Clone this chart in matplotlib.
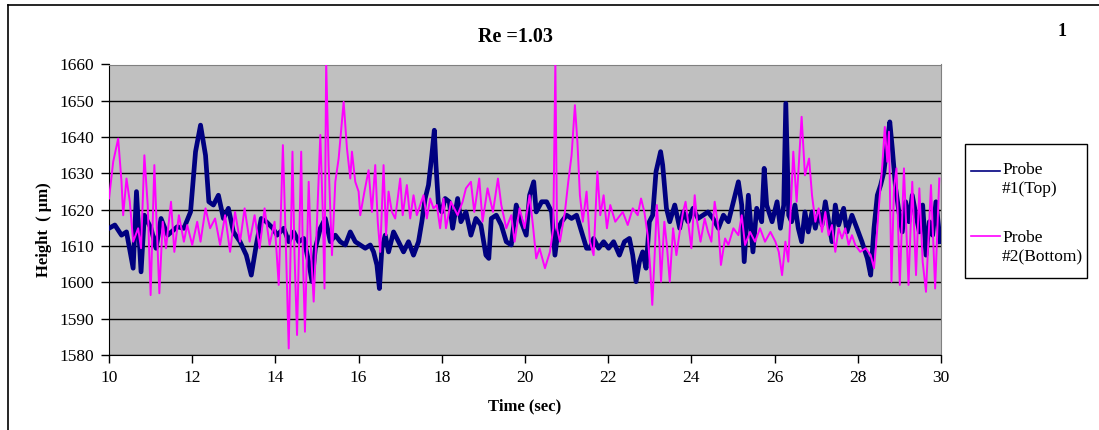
import matplotlib
matplotlib.use("Agg")
import matplotlib.pyplot as plt
from matplotlib.lines import Line2D
from matplotlib.patches import Rectangle

plt.rcParams['font.family'] = ['Liberation Serif', 'DejaVu Serif']

# Probe #1 (top) film height, time in sec, height in micrometres
t_top = [10.00, 10.14, 10.30, 10.42, 10.58, 10.66, 10.77, 10.85, 11.01, 11.13,
         11.25, 11.41, 11.64, 11.80, 11.96, 12.08, 12.20, 12.32, 12.40, 12.51,
         12.63, 12.75, 12.87, 12.99, 13.15, 13.30, 13.42, 13.54, 13.66, 13.78,
         13.94, 14.04, 14.20, 14.32, 14.44, 14.56, 14.68, 14.80, 14.88, 14.96,
         15.08, 15.20, 15.32, 15.44, 15.56, 15.68, 15.80, 15.92, 16.04, 16.16,
         16.28, 16.36, 16.44, 16.50, 16.56, 16.64, 16.72, 16.84, 16.96, 17.08,
         17.20, 17.32, 17.44, 17.52, 17.60, 17.68, 17.76, 17.82, 17.86, 17.92,
         18.00, 18.08, 18.18, 18.26, 18.38, 18.46, 18.58, 18.70, 18.82, 18.94,
         19.06, 19.13, 19.19, 19.31, 19.43, 19.55, 19.67, 19.79, 19.91, 20.03,
         20.11, 20.21, 20.27, 20.40, 20.52, 20.64, 20.72, 20.80, 20.88, 21.00,
         21.12, 21.24, 21.36, 21.48, 21.56, 21.65, 21.77, 21.89, 22.01, 22.13,
         22.27, 22.39, 22.51, 22.59, 22.67, 22.75, 22.83, 22.91, 22.99, 23.07,
         23.15, 23.26, 23.31, 23.40, 23.48, 23.60, 23.72, 23.80, 23.92, 24.04,
         24.16, 24.28, 24.40, 24.52, 24.65, 24.77, 24.89, 25.01, 25.13, 25.21,
         25.27, 25.37, 25.48, 25.57, 25.69, 25.75, 25.81, 25.94, 26.06, 26.14,
         26.22, 26.27, 26.34, 26.41, 26.49, 26.57, 26.65, 26.73, 26.81, 26.90,
         26.98, 27.06, 27.14, 27.22, 27.30, 27.38, 27.46, 27.54, 27.66, 27.74,
         27.86, 27.98, 28.10, 28.23, 28.31, 28.39, 28.47, 28.55, 28.63, 28.71,
         28.77, 28.83, 28.91, 28.99, 29.07, 29.15, 29.23, 29.31, 29.40, 29.48,
         29.56, 29.64, 29.72, 29.80, 29.88, 29.98]
h_top = [1614.9, 1615.8, 1613.0, 1613.9, 1603.9, 1625.0, 1602.9, 1618.5, 1614.9, 1609.4,
         1617.6, 1613.0, 1615.3, 1614.9, 1619.4, 1636.0, 1643.3, 1635.0, 1622.2, 1621.3,
         1624.0, 1617.6, 1620.4, 1613.9, 1611.2, 1607.5, 1602.0, 1610.3, 1617.6, 1616.7,
         1614.9, 1613.0, 1614.9, 1611.2, 1613.9, 1611.2, 1612.1, 1605.7, 1600.2, 1609.4,
         1614.9, 1617.6, 1611.2, 1613.0, 1611.2, 1610.3, 1613.9, 1611.2, 1610.3, 1609.4,
         1610.3, 1608.4, 1604.8, 1598.3, 1609.4, 1613.0, 1608.4, 1613.9, 1611.2, 1608.4,
         1611.2, 1607.5, 1611.2, 1616.7, 1623.1, 1626.8, 1635.0, 1641.9, 1632.3, 1621.3,
         1619.4, 1623.1, 1622.2, 1614.9, 1623.1, 1616.7, 1619.4, 1613.0, 1617.6, 1615.8,
         1607.5, 1606.6, 1617.6, 1618.5, 1615.8, 1611.2, 1610.3, 1621.3, 1616.7, 1613.0,
         1624.0, 1627.7, 1619.4, 1622.2, 1622.2, 1619.4, 1607.5, 1614.9, 1616.7, 1618.5,
         1617.6, 1618.5, 1613.9, 1609.4, 1609.4, 1612.1, 1609.4, 1611.2, 1609.4, 1611.2,
         1607.5, 1611.2, 1612.1, 1607.5, 1600.2, 1605.7, 1608.4, 1603.9, 1616.7, 1618.5,
         1630.5, 1636.0, 1632.3, 1620.4, 1616.7, 1621.3, 1614.9, 1619.4, 1616.7, 1620.4,
         1617.6, 1618.5, 1619.4, 1617.6, 1614.9, 1618.5, 1616.7, 1622.2, 1627.7, 1621.3,
         1605.7, 1624.0, 1608.4, 1620.4, 1616.7, 1631.4, 1621.3, 1616.7, 1622.2, 1614.9,
         1621.3, 1649.3, 1618.5, 1616.7, 1621.3, 1614.9, 1611.2, 1619.4, 1613.9, 1619.4,
         1614.9, 1619.4, 1615.8, 1622.2, 1616.7, 1611.2, 1621.3, 1615.8, 1620.4, 1613.9,
         1618.5, 1614.9, 1611.2, 1606.6, 1602.0, 1614.9, 1624.0, 1626.8, 1630.5, 1638.7,
         1644.2, 1636.9, 1625.9, 1619.4, 1613.9, 1622.2, 1616.7, 1624.0, 1618.5, 1613.9,
         1621.3, 1607.5, 1616.7, 1613.0, 1622.2, 1611.2]

# Probe #2 (bottom)
t_bot = [10.00, 10.10, 10.22, 10.30, 10.34, 10.42, 10.50, 10.58, 10.70, 10.77,
         10.85, 10.93, 11.00, 11.09, 11.21, 11.29, 11.37, 11.49, 11.57, 11.68,
         11.80, 11.88, 12.00, 12.12, 12.20, 12.32, 12.43, 12.55, 12.67, 12.79,
         12.91, 13.03, 13.15, 13.26, 13.38, 13.50, 13.62, 13.74, 13.86, 13.98,
         14.08, 14.18, 14.24, 14.32, 14.41, 14.46, 14.52, 14.62, 14.66, 14.71,
         14.80, 14.86, 14.92, 14.98, 15.08, 15.14, 15.18, 15.22, 15.28, 15.36,
         15.44, 15.52, 15.64, 15.72, 15.80, 15.84, 15.92, 16.00, 16.04, 16.14,
         16.24, 16.32, 16.40, 16.46, 16.52, 16.60, 16.66, 16.72, 16.80, 16.88,
         17.00, 17.06, 17.16, 17.24, 17.32, 17.40, 17.48, 17.56, 17.64, 17.72,
         17.80, 17.88, 17.96, 18.04, 18.10, 18.22, 18.38, 18.50, 18.58, 18.70,
         18.78, 18.90, 18.98, 19.10, 19.23, 19.35, 19.43, 19.55, 19.67, 19.75,
         19.87, 19.99, 20.11, 20.19, 20.27, 20.35, 20.48, 20.60, 20.68, 20.73,
         20.77, 20.84, 20.96, 21.04, 21.12, 21.20, 21.26, 21.32, 21.39, 21.48,
         21.56, 21.65, 21.74, 21.81, 21.89, 21.97, 22.05, 22.17, 22.35, 22.47,
         22.59, 22.71, 22.79, 22.87, 22.95, 23.01, 23.06, 23.11, 23.17, 23.23,
         23.27, 23.35, 23.41, 23.48, 23.56, 23.64, 23.72, 23.80, 23.86, 23.92,
         24.00, 24.08, 24.14, 24.22, 24.32, 24.40, 24.48, 24.56, 24.65, 24.71,
         24.81, 24.89, 25.01, 25.13, 25.21, 25.29, 25.41, 25.53, 25.65, 25.77,
         25.90, 26.02, 26.10, 26.18, 26.26, 26.33, 26.45, 26.53, 26.65, 26.73,
         26.83, 26.90, 26.98, 27.06, 27.14, 27.22, 27.30, 27.38, 27.46, 27.54,
         27.62, 27.70, 27.78, 27.86, 27.94, 28.06, 28.19, 28.31, 28.39, 28.44,
         28.51, 28.59, 28.65, 28.71, 28.75, 28.81, 28.87, 28.93, 29.01, 29.11,
         29.22, 29.31, 29.40, 29.48, 29.56, 29.64, 29.76, 29.86, 29.96]
h_bot = [1623.1, 1633.2, 1639.6, 1627.7, 1618.5, 1628.6, 1622.2, 1611.2, 1614.9, 1609.4,
         1635.0, 1621.3, 1596.5, 1632.3, 1597.0, 1616.7, 1609.4, 1622.2, 1608.4, 1618.5,
         1611.2, 1615.8, 1610.3, 1616.7, 1611.2, 1620.4, 1614.9, 1617.6, 1610.3, 1618.5,
         1608.4, 1619.4, 1611.2, 1620.4, 1611.2, 1618.5, 1609.4, 1620.4, 1610.3, 1616.7,
         1599.3, 1637.8, 1614.9, 1581.8, 1636.0, 1607.5, 1585.5, 1636.0, 1607.5, 1586.4,
         1627.7, 1607.5, 1594.7, 1611.2, 1640.6, 1618.5, 1598.3, 1661.0, 1632.3, 1607.5,
         1627.7, 1634.1, 1649.7, 1636.9, 1628.6, 1636.0, 1627.7, 1625.0, 1618.5, 1625.0,
         1630.9, 1619.4, 1632.3, 1616.7, 1608.4, 1632.3, 1613.0, 1625.0, 1619.4, 1617.6,
         1628.6, 1618.5, 1626.8, 1617.6, 1624.0, 1618.5, 1621.3, 1624.0, 1617.6, 1623.1,
         1620.4, 1621.3, 1614.9, 1623.1, 1614.9, 1622.2, 1618.5, 1622.2, 1625.9, 1627.7,
         1619.4, 1628.6, 1616.7, 1625.9, 1619.4, 1628.6, 1621.3, 1614.9, 1618.5, 1611.2,
         1620.4, 1614.9, 1624.0, 1615.8, 1606.6, 1609.4, 1603.9, 1608.4, 1614.9, 1661.0,
         1614.9, 1611.2, 1619.4, 1627.7, 1635.0, 1648.8, 1638.7, 1624.0, 1616.7, 1625.0,
         1611.2, 1607.5, 1630.5, 1618.5, 1624.0, 1614.9, 1621.3, 1616.7, 1619.4, 1615.8,
         1620.4, 1618.5, 1623.1, 1619.4, 1613.0, 1603.9, 1593.8, 1605.7, 1621.3, 1611.2,
         1600.2, 1616.7, 1610.3, 1600.2, 1614.9, 1607.5, 1613.9, 1619.4, 1622.2, 1616.7,
         1609.4, 1624.0, 1616.7, 1611.2, 1617.6, 1613.9, 1611.2, 1622.2, 1614.9, 1604.8,
         1612.1, 1610.3, 1614.9, 1613.0, 1618.5, 1610.3, 1613.9, 1611.2, 1614.9, 1611.2,
         1613.9, 1611.2, 1608.4, 1602.0, 1611.2, 1605.7, 1636.0, 1622.2, 1645.6, 1629.5,
         1634.1, 1624.0, 1616.7, 1620.4, 1613.9, 1619.4, 1613.0, 1615.8, 1608.4, 1614.9,
         1612.1, 1614.9, 1610.3, 1613.0, 1610.3, 1608.4, 1609.4, 1607.5, 1603.9, 1610.3,
         1621.3, 1632.3, 1642.8, 1633.2, 1641.5, 1600.2, 1625.9, 1631.4, 1599.3, 1631.4,
         1599.3, 1627.7, 1602.0, 1625.9, 1605.7, 1597.4, 1626.8, 1598.3, 1628.6]

series_names = ['Probe\n#1(Top)', 'Probe\n#2(Bottom)']
series_colors = ['#000080', '#ff00ff']

fig = plt.figure(figsize=(10.99, 4.30), dpi=100)
ax = fig.add_axes([0.0992, 0.1744, 0.757, 0.6756])
ax.set_facecolor('#c0c0c0')

ax.plot(t_top, h_top, color=series_colors[0], lw=3.4, zorder=3)
ax.plot(t_bot, h_bot, color=series_colors[1], lw=1.4, zorder=4)

ax.set_xlim(10, 30)
ax.set_ylim(1580, 1660)
ax.set_xticks(range(10, 31, 2))
ax.set_yticks(range(1580, 1661, 10))
ax.yaxis.grid(True, color='black', lw=1.0)
ax.set_axisbelow(True)
ax.tick_params(direction='out', length=6, width=1, labelsize=12.5, pad=5)
for side in ('top', 'right'):
    ax.spines[side].set_color('#808080')
for side in ('left', 'bottom'):
    ax.spines[side].set_color('black')

ax.set_xlabel('Time (sec)', fontsize=12, fontweight='bold')
ax.xaxis.set_label_coords(0.5, -0.148)
ax.set_ylabel('Height  ( μm)', fontsize=12, fontweight='bold')
ax.yaxis.set_label_coords(-0.0685, 0.43)

fig.text(0.469, 0.913, 'Re =1.03', ha='center', va='center', fontsize=14.5, fontweight='bold')
fig.text(0.966, 0.926, '1', ha='center', va='center', fontsize=13, fontweight='bold')

# Excel-style legend: handle sits beside the first line of each label
fig.add_artist(Rectangle((0.878, 0.3535), 0.111, 0.3115, transform=fig.transFigure,
                         facecolor='white', edgecolor='black', lw=1.0))
for name, color, y_line, y_text in zip(series_names, series_colors,
                                       [0.603, 0.451], [0.5814, 0.4244]):
    fig.add_artist(Line2D([0.8835, 0.910], [y_line, y_line], color=color, lw=1.2))
    fig.text(0.9117, y_text, name, ha='left', va='center', fontsize=12.5,
             linespacing=1.25)

# thin frame round the whole chart
fig.add_artist(Line2D([0.0073, 0.0073], [0.0, 0.989], color='black', lw=1.2))
fig.add_artist(Line2D([0.0073, 1.0], [0.989, 0.989], color='black', lw=1.2))

fig.savefig('out.png', dpi=100)
